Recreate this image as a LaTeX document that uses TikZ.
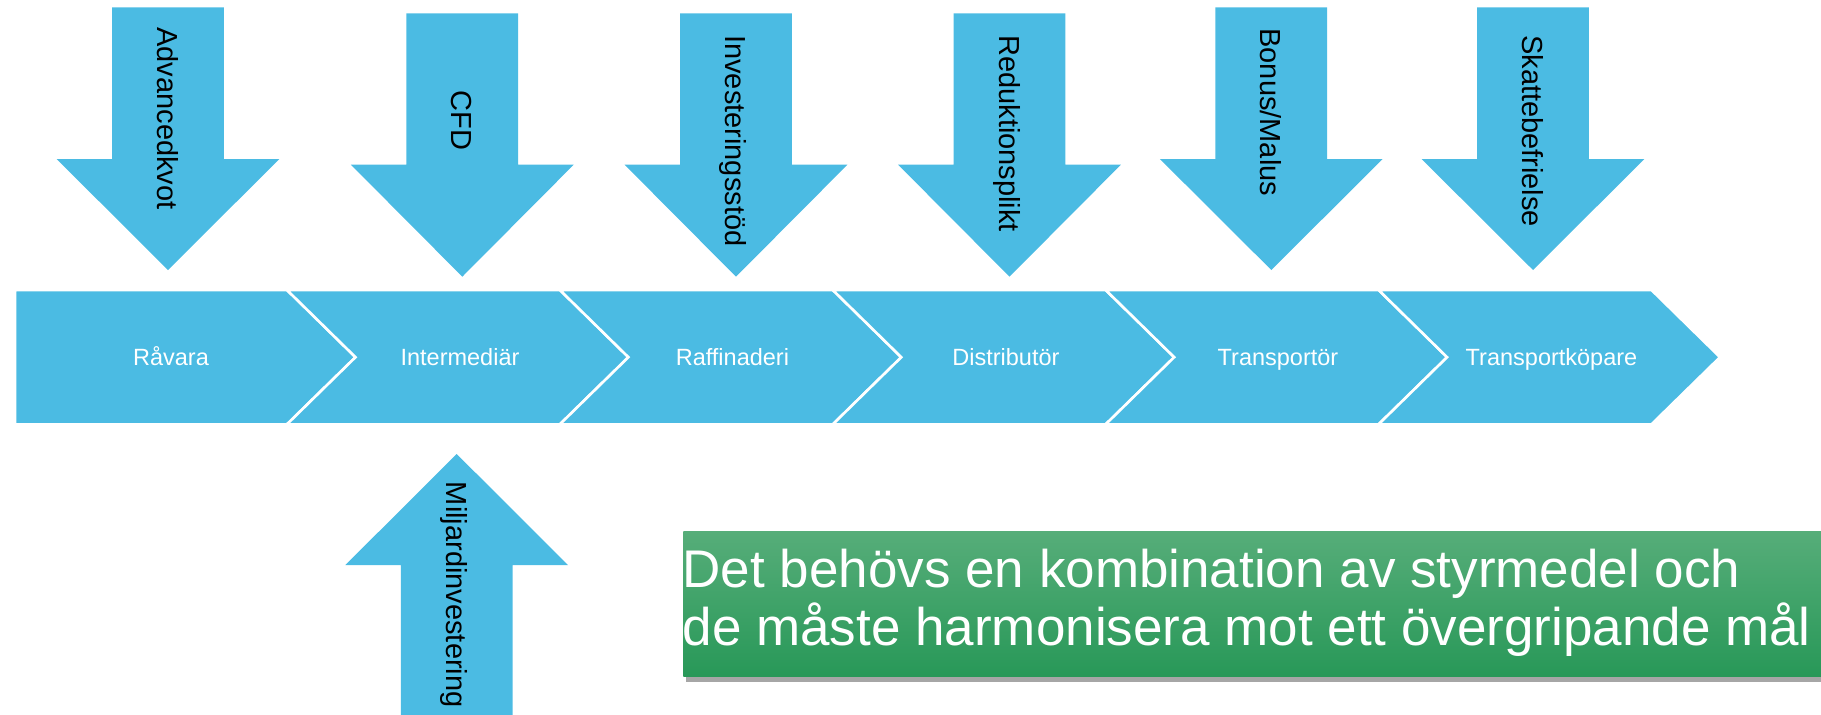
\documentclass[tikz,border=0pt]{standalone}
\usepackage{fontspec}
\setmainfont{Liberation Sans}
\usetikzlibrary{shadows}
\definecolor{cblue}{RGB}{75,187,227}
\definecolor{gtop}{RGB}{86,173,121}
\definecolor{gbot}{RGB}{40,152,88}
\begin{document}
\begin{tikzpicture}[x=1pt,y=-1pt,
  chev/.style={fill=cblue, draw=white, line width=2.6pt, line join=miter},
  bigarrow/.style={fill=cblue, draw=none},
  chevlabel/.style={text=white, font=\fontsize{23.5}{28}\selectfont, inner sep=0pt, anchor=base},
  arrlabel/.style={text=black, font=\fontsize{29}{34}\selectfont, inner sep=0pt, anchor=base west, rotate=-90},
  greenlabel/.style={text=white, font=\fontsize{53}{57}\selectfont, inner sep=0pt, anchor=base west},
]
\useasboundingbox (0,0) rectangle (1821,715);

% downward arrows
\foreach \cx/\t/\s/\tp in {168/7.3/159/270, 462.3/13.3/164.7/276.7, 736/13.3/164.7/276.7, 1009.5/13.3/164.7/276.7, 1271.3/7.3/159/270, 1533/7.3/159/270}
  \path[bigarrow] ({\cx-55.9},\t) -- ({\cx+55.9},\t) -- ({\cx+55.9},\s) -- ({\cx+111.4},\s)
    -- (\cx,\tp) -- ({\cx-111.4},\s) -- ({\cx-55.9},\s) -- cycle;

\node[arrlabel] (a1) at (157.5,27.3) {Advancedkvot};
\node[arrlabel] (a2) at (451.8,90.7) {CFD};
\node[arrlabel] (a3) at (725.5,35) {Investeringsstöd};
\node[arrlabel] (a4) at (999,35) {Reduktionsplikt};
\node[arrlabel] (a5) at (1260.8,28.3) {Bonus/Malus};
\node[arrlabel] (a6) at (1522.5,35) {Skattebefrielse};

% chevrons
\path[chev] (15,290) -- (287,290) -- (355.5,357.2) -- (287,424.3) -- (15,424.3) -- cycle;
\foreach \i in {0,...,4}{
  \pgfmathsetmacro{\L}{287+272.9*\i}
  \pgfmathsetmacro{\R}{\L+272.9}
  \path[chev] (\L,290) -- (\R,290) -- ({\R+68.5},357.2) -- (\R,424.3) -- (\L,424.3) -- ({\L+68.5},357.2) -- cycle;
}

\node[chevlabel] (c1) at (171,365) {Råvara};
\node[chevlabel] (c2) at (460,365) {Intermediär};
\node[chevlabel] (c3) at (732.4,365) {Raffinaderi};
\node[chevlabel] (c4) at (1005.9,365) {Distributör};
\node[chevlabel] (c5) at (1278,365) {Transportör};
\node[chevlabel] (c6) at (1551.5,365) {Transportköpare};

% upward arrow
\path[bigarrow] (456.7,454) -- (568,565) -- (512.5,565) -- (512.5,715) -- (400.9,715) -- (400.9,565) -- (345.4,565) -- cycle;
\node[arrlabel] (m1) at (446,481.7) {Miljardinvestering};

% green box
\path[top color=gtop, bottom color=gbot, drop shadow={shadow xshift=3pt, shadow yshift=-5pt, opacity=0.35, fill=black}] (683.3,531.7) rectangle (1821,676.7);
\node[greenlabel] (g1) at (682.5,587.7) {Det behövs en kombination av styrmedel och};
\node[greenlabel] (g2) at (682.5,645) {de måste harmonisera mot ett övergripande mål};
\end{tikzpicture}
\end{document}
